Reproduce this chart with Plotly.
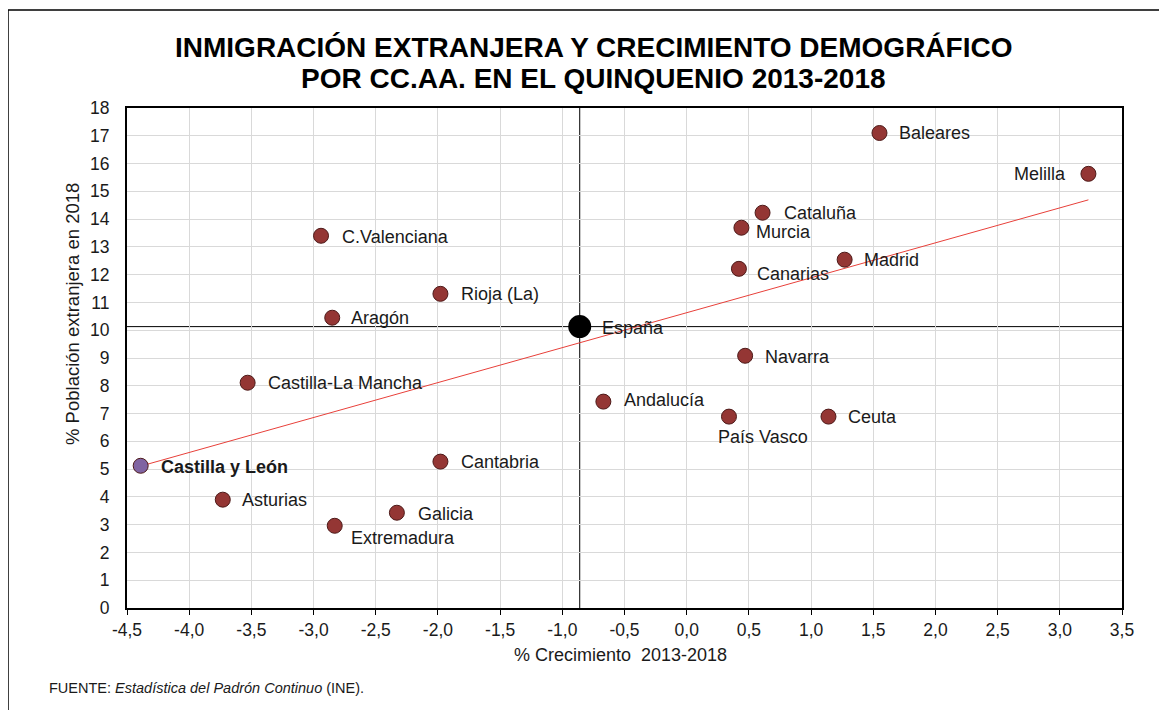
import numpy as np
import plotly.graph_objects as go

# ---- data ----
regions = ["Baleares", "Melilla", "Cataluña", "Murcia", "Canarias", "Madrid",
           "Navarra", "Andalucía", "País Vasco", "Ceuta", "Cantabria", "Galicia",
           "Extremadura", "Asturias", "Castilla y León", "Castilla-La Mancha",
           "Aragón", "C.Valenciana", "Rioja (La)"]
growth = [1.55, 3.23, 0.61, 0.44, 0.42, 1.27,
          0.47, -0.67, 0.34, 1.14, -1.98, -2.33,
          -2.83, -3.73, -4.39, -3.53,
          -2.85, -2.94, -1.98]
foreign = [17.10, 15.63, 14.23, 13.69, 12.21, 12.54,
           9.08, 7.43, 6.89, 6.89, 5.27, 3.43,
           2.96, 3.90, 5.12, 8.11,
           10.45, 13.40, 11.31]
spain_name = "España"
spain_growth = -0.86
spain_foreign = 10.13

x_ticks = [-4.5, -4.0, -3.5, -3.0, -2.5, -2.0, -1.5, -1.0, -0.5, 0.0, 0.5, 1.0, 1.5, 2.0, 2.5, 3.0, 3.5]
x_tick_labels = [f"{v:.1f}".replace(".", ",") for v in x_ticks]
y_ticks = list(range(0, 19))

title_lines = ["INMIGRACIÓN EXTRANJERA Y CRECIMIENTO DEMOGRÁFICO",
               "POR CC.AA. EN EL QUINQUENIO 2013-2018"]

# ---- label placement (styling only) ----
label_pos = {
    "Baleares": ("left", 18, 0), "Melilla": ("right", -20, 0),
    "Cataluña": ("left", 19, 0), "Murcia": ("left", 13, -4),
    "Canarias": ("left", 16, -5), "Madrid": ("left", 17, 0),
    "Navarra": ("left", 18, -1), "Andalucía": ("left", 19, 2),
    "País Vasco": ("center", 34, -20), "Ceuta": ("left", 18, 0),
    "Cantabria": ("left", 19, 0), "Galicia": ("left", 19, -1),
    "Extremadura": ("left", 14, -12), "Asturias": ("left", 17, 0),
    "Castilla y León": ("left", 18, -1), "Castilla-La Mancha": ("left", 18, 0),
    "Aragón": ("left", 17, 0), "C.Valenciana": ("left", 19, -1),
    "Rioja (La)": ("left", 19, 0),
}

FONT = "Liberation Sans, Arial, sans-serif"
TXT = "#1a1a1a"
RED = "#943634"
PURPLE = "#8064a2"

fig = go.Figure()

# trend line (OLS over the regions)
slope, intercept = np.polyfit(growth, foreign, 1)
tx = np.array([min(growth), max(growth)])
fig.add_trace(go.Scatter(x=tx, y=slope * tx + intercept, mode="lines",
                         line=dict(color="#e8403a", width=1), hoverinfo="skip"))

colors = [PURPLE if r == "Castilla y León" else RED for r in regions]
fig.add_trace(go.Scatter(x=growth, y=foreign, mode="markers", text=regions,
                         marker=dict(size=15, color=colors,
                                     line=dict(color="#4d1a19", width=1))))
fig.add_trace(go.Scatter(x=[spain_growth], y=[spain_foreign], mode="markers",
                         marker=dict(size=23, color="black"), text=[spain_name]))

annotations = []
for r, gx, fy in zip(regions, growth, foreign):
    anchor, dx, dy = label_pos[r]
    txt = f"<b>{r}</b>" if r == "Castilla y León" else r
    annotations.append(dict(x=gx, y=fy, xref="x", yref="y", text=txt, showarrow=False,
                            xanchor=anchor, yanchor="middle", xshift=dx, yshift=dy,
                            font=dict(family=FONT, size=18, color=TXT)))
annotations.append(dict(x=spain_growth, y=spain_foreign, xref="x", yref="y", text=spain_name,
                        showarrow=False, xanchor="left", yanchor="middle", xshift=20, yshift=-1,
                        font=dict(family=FONT, size=18, color=TXT)))

# title (two lines)
for line, ty in zip(title_lines, [1.121, 1.059]):
    annotations.append(dict(x=0.4693, y=ty, xref="paper", yref="paper",
                            text=f"<b>{line}</b>", showarrow=False,
                            xanchor="center", yanchor="middle",
                            font=dict(family=FONT, size=28, color="black")))
# axis titles
annotations.append(dict(x=0.4955, y=-0.094, xref="paper", yref="paper",
                        text="% Crecimiento  2013-2018", showarrow=False,
                        xanchor="center", yanchor="middle",
                        font=dict(family=FONT, size=18, color=TXT)))
annotations.append(dict(x=-0.0553, y=0.588, xref="paper", yref="paper",
                        text="% Población extranjera en 2018", showarrow=False, textangle=-90,
                        xanchor="center", yanchor="middle",
                        font=dict(family=FONT, size=18.5, color=TXT)))
# source
annotations.append(dict(x=-0.0804, y=-0.16, xref="paper", yref="paper",
                        text="FUENTE: <i>Estadística del Padrón Continuo</i> (INE).", showarrow=False,
                        xanchor="left", yanchor="middle",
                        font=dict(family=FONT, size=14.5, color=TXT)))

shapes = [
    dict(type="line", xref="x", yref="paper", x0=spain_growth, x1=spain_growth, y0=0, y1=1,
         line=dict(color="black", width=1), layer="below"),
    dict(type="line", xref="paper", yref="y", x0=0, x1=1, y0=spain_foreign, y1=spain_foreign,
         line=dict(color="black", width=1), layer="below"),
    dict(type="rect", xref="paper", yref="paper", x0=-0.1196, x1=1.2, y0=-0.4, y1=1.196,
         line=dict(color="black", width=1.5), fillcolor="rgba(0,0,0,0)"),
]

fig.update_layout(
    width=1167, height=710,
    margin=dict(l=119, r=53, t=100, b=110),
    paper_bgcolor="white", plot_bgcolor="white",
    showlegend=False, separators=",.",
    annotations=annotations, shapes=shapes,
    font=dict(family=FONT, size=17, color=TXT),
)
fig.update_xaxes(range=[-4.5, 3.5], tickvals=x_ticks, ticktext=x_tick_labels,
                 showgrid=True, gridcolor="#d9d9d9", gridwidth=1,
                 showline=True, linecolor="black", linewidth=2, mirror=True,
                 ticks="outside", ticklen=5, tickcolor="black", tickwidth=1,
                 zeroline=False, tickfont=dict(family=FONT, size=17.5, color=TXT))
fig.update_yaxes(range=[0, 18], tickvals=y_ticks,
                 showgrid=True, gridcolor="#d9d9d9", gridwidth=1,
                 showline=True, linecolor="black", linewidth=2, mirror=True,
                 ticks="outside", ticklen=12, tickcolor="rgba(0,0,0,0)",
                 zeroline=False, tickfont=dict(family=FONT, size=17.5, color=TXT))

fig.write_html("out.html")
